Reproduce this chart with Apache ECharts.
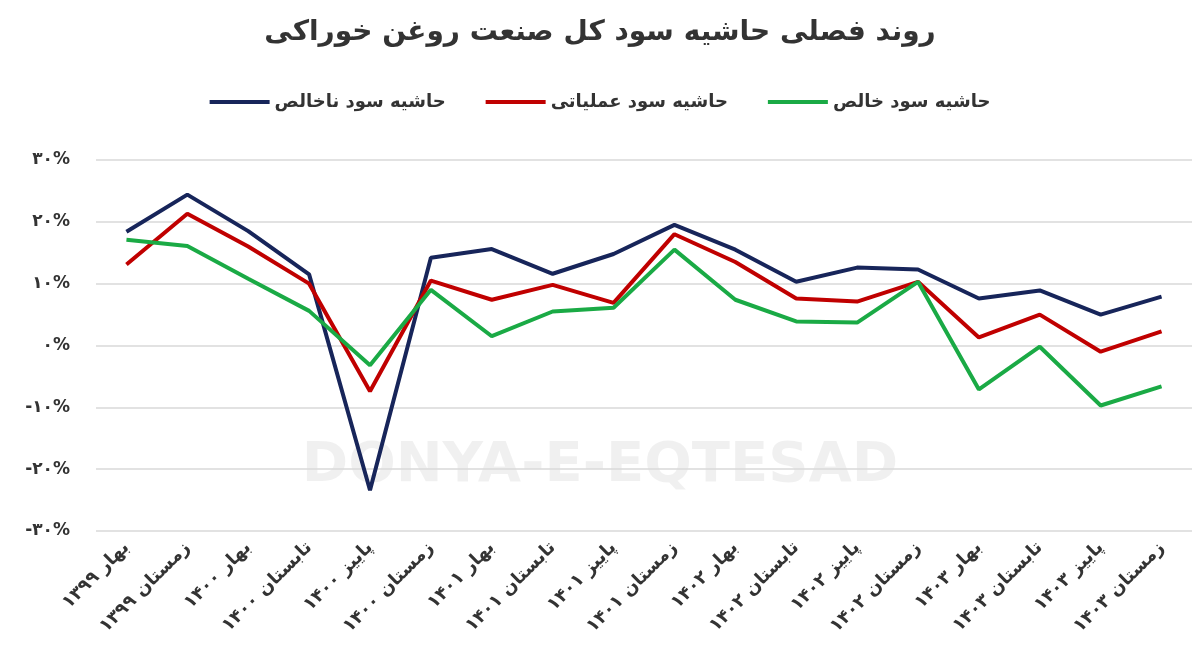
<!DOCTYPE html>
<html><head><meta charset="utf-8">
<script src="https://cdn.jsdelivr.net/npm/echarts@6/dist/echarts.min.js"></script>
<style>html,body{margin:0;padding:0;background:#fff}#c{width:1200px;height:672px}</style>
</head><body><div id="c"></div>
<script>
const categories = ['بهار ۱۳۹۹','زمستان ۱۳۹۹','بهار ۱۴۰۰','تابستان ۱۴۰۰','پاییز ۱۴۰۰','زمستان ۱۴۰۰','بهار ۱۴۰۱','تابستان ۱۴۰۱','پاییز ۱۴۰۱','زمستان ۱۴۰۱','بهار ۱۴۰۲','تابستان ۱۴۰۲','پاییز ۱۴۰۲','زمستان ۱۴۰۲','بهار ۱۴۰۳','تابستان ۱۴۰۳','پاییز ۱۴۰۳','زمستان ۱۴۰۳'];
const grossMargin = [18.4,24.4,18.5,11.5,-23.4,14.2,15.6,11.6,14.8,19.5,15.5,10.3,12.6,12.3,7.6,8.9,5.0,7.9];
const operatingMargin = [13.1,21.3,16.0,10.0,-7.4,10.5,7.4,9.8,6.9,18.0,13.5,7.6,7.1,10.3,1.3,5.0,-1.0,2.3];
const netMargin = [17.1,16.1,10.8,5.6,-3.2,9.0,1.5,5.5,6.1,15.5,7.4,3.9,3.7,10.3,-7.1,-0.2,-9.7,-6.6];
const seriesNames = ['حاشیه سود ناخالص','حاشیه سود عملیاتی','حاشیه سود خالص'];
const title = 'روند فصلی حاشیه سود کل صنعت روغن خوراکی';

const fa = s => String(s).replace(/\d/g, d => '۰۱۲۳۴۵۶۷۸۹'[d]);
const F = 'DejaVu Sans';
const chart = echarts.init(document.getElementById('c'));
const mk = (name, data, color) => ({name, type:'line', data, symbol:'none', lineStyle:{width:4, color}, itemStyle:{color}});
chart.setOption({
  animation:false,
  title:{text:title, left:'center', top:14, textStyle:{fontFamily:F, fontSize:28, fontWeight:'bold', color:'#333'}},
  legend:{top:88, left:'center', itemGap:40, itemWidth:60, itemHeight:4, icon:'rect',
    textStyle:{fontFamily:F, fontSize:18, fontWeight:'bold', color:'#333'}},
  graphic:[{type:'text', left:'center', top:438, z:-1, style:{text:'DONYA-E-EQTESAD', fontFamily:F, fontSize:56, fontWeight:'bold', fill:'rgba(0,0,0,0.06)'}}],
  grid:{left:96, right:8, top:160, bottom:141},
  xAxis:{type:'category', data:categories, boundaryGap:true,
    axisLine:{show:false}, axisTick:{show:false},
    axisLabel:{interval:0, rotate:45, fontFamily:F, fontSize:18, fontWeight:'bold', color:'#333', margin:14}},
  yAxis:{type:'value', min:-30, max:30, interval:10,
    axisLabel:{formatter:v=>fa(v<0?'-'+Math.abs(v):v)+'%', fontFamily:F, fontSize:17, fontWeight:'bold', color:'#333', margin:26},
    splitLine:{lineStyle:{color:'#d9d9d9', width:1.5}}},
  series:[mk(seriesNames[0], grossMargin, '#17255a'), mk(seriesNames[1], operatingMargin, '#c00000'), mk(seriesNames[2], netMargin, '#1aaa45')]
});
</script></body></html>
